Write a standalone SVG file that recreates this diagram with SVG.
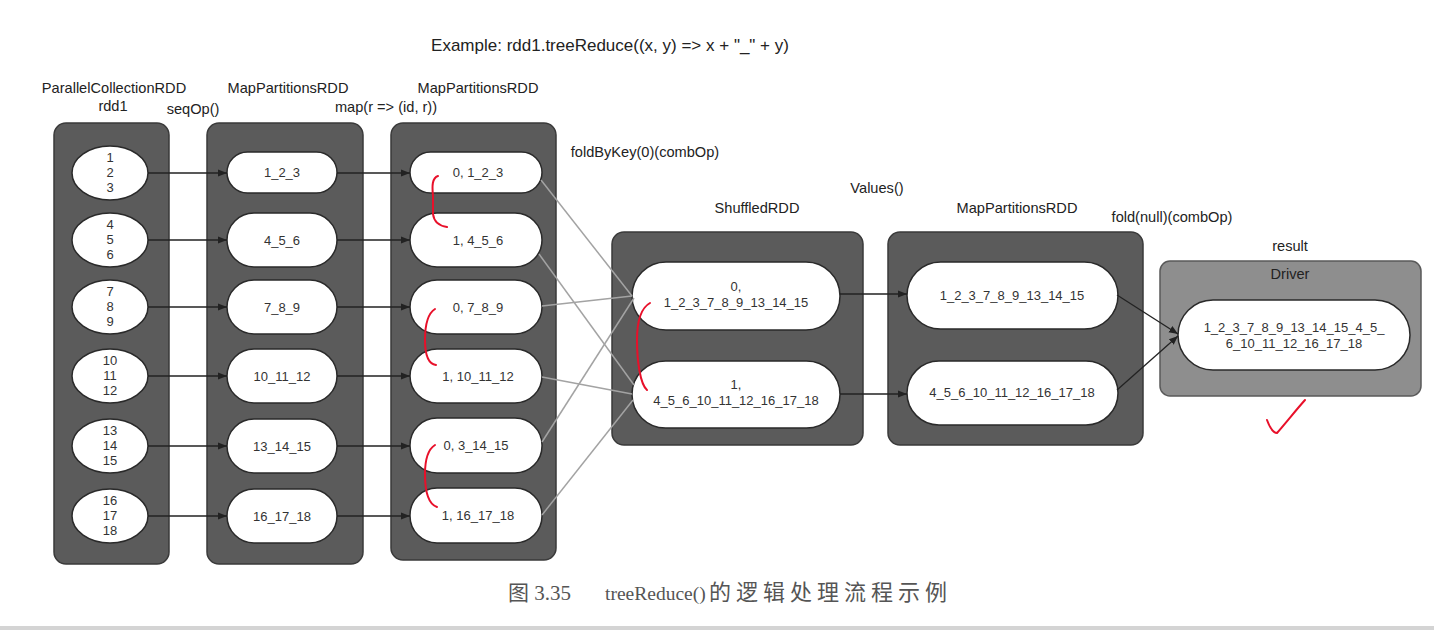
<svg xmlns="http://www.w3.org/2000/svg" width="1434" height="630" viewBox="0 0 1434 630">
<defs>
<marker id="ah" viewBox="0 0 10 10" refX="10" refY="5" markerWidth="9" markerHeight="9" markerUnits="userSpaceOnUse" orient="auto">
<path d="M0,1 L10,5 L0,9 z" fill="#222"/>
</marker>
<style>
.box{fill:#5b5b5b;stroke:#3a3a3a;stroke-width:1.5}
.drv{fill:#8e8e8e;stroke:#5a5a5a;stroke-width:1.5}
.pill{fill:#fff;stroke:#2a2a2a;stroke-width:1.5}
.t{font-family:"Liberation Sans",Arial,sans-serif;font-size:14.6px;fill:#222;text-anchor:middle}
.n{font-family:"Liberation Sans",Arial,sans-serif;font-size:13px;fill:#333;text-anchor:middle}
.arr{stroke:#222;stroke-width:1.3;fill:none;marker-end:url(#ah)}
.sh{stroke:#a3a3a3;stroke-width:1.5;fill:none}
.red{stroke:#e8102a;stroke-width:2;fill:none;stroke-linecap:round}
.cap{font-family:"Liberation Serif","Noto Sans CJK SC",serif;font-size:21px;fill:#555}
</style>
</defs>
<rect width="1434" height="630" fill="#fff"/>

<g id="labels">
<text class="t" x="610" y="51" style="font-size:17px">Example: rdd1.treeReduce((x, y) =&gt; x + "_" + y)</text>
<text class="t" x="114" y="93">ParallelCollectionRDD</text>
<text class="t" x="113" y="111">rdd1</text>
<text class="t" x="193" y="114">seqOp()</text>
<text class="t" x="288" y="93">MapPartitionsRDD</text>
<text class="t" x="386" y="112">map(r =&gt; (id, r))</text>
<text class="t" x="478" y="93">MapPartitionsRDD</text>
<text class="t" x="645" y="157">foldByKey(0)(combOp)</text>
<text class="t" x="877" y="193">Values()</text>
<text class="t" x="757" y="213">ShuffledRDD</text>
<text class="t" x="1017" y="213">MapPartitionsRDD</text>
<text class="t" x="1172" y="222">fold(null)(combOp)</text>
<text class="t" x="1290" y="251">result</text>
</g>

<g id="rdd1">
<rect class="box" x="54" y="123" width="115" height="441" rx="12"/>
<g id="p1-1"><ellipse class="pill" cx="110" cy="173" rx="38" ry="27"/><text class="n" x="110" y="162">1</text><text class="n" x="110" y="177">2</text><text class="n" x="110" y="192">3</text></g>
<g id="p1-2"><ellipse class="pill" cx="110" cy="240" rx="38" ry="27"/><text class="n" x="110" y="229">4</text><text class="n" x="110" y="244">5</text><text class="n" x="110" y="259">6</text></g>
<g id="p1-3"><ellipse class="pill" cx="110" cy="307" rx="38" ry="27"/><text class="n" x="110" y="296">7</text><text class="n" x="110" y="311">8</text><text class="n" x="110" y="326">9</text></g>
<g id="p1-4"><ellipse class="pill" cx="110" cy="376" rx="38" ry="27"/><text class="n" x="110" y="365">10</text><text class="n" x="110" y="380">11</text><text class="n" x="110" y="395">12</text></g>
<g id="p1-5"><ellipse class="pill" cx="110" cy="446" rx="38" ry="27"/><text class="n" x="110" y="435">13</text><text class="n" x="110" y="450">14</text><text class="n" x="110" y="465">15</text></g>
<g id="p1-6"><ellipse class="pill" cx="110" cy="516" rx="38" ry="27"/><text class="n" x="110" y="505">16</text><text class="n" x="110" y="520">17</text><text class="n" x="110" y="535">18</text></g>
</g>

<g id="mp1">
<rect class="box" x="207" y="123" width="156" height="441" rx="12"/>
<g id="p2-1"><rect class="pill" x="227" y="152" width="110" height="41" rx="20.5"/><text class="n" x="282" y="177">1_2_3</text></g>
<g id="p2-2"><rect class="pill" x="227" y="213" width="110" height="54" rx="27"/><text class="n" x="282" y="245">4_5_6</text></g>
<g id="p2-3"><rect class="pill" x="227" y="280" width="110" height="54" rx="27"/><text class="n" x="282" y="312">7_8_9</text></g>
<g id="p2-4"><rect class="pill" x="227" y="349" width="110" height="54" rx="27"/><text class="n" x="282" y="381">10_11_12</text></g>
<g id="p2-5"><rect class="pill" x="227" y="419" width="110" height="54" rx="27"/><text class="n" x="282" y="451">13_14_15</text></g>
<g id="p2-6"><rect class="pill" x="227" y="489" width="110" height="54" rx="27"/><text class="n" x="282" y="521">16_17_18</text></g>
</g>

<g id="mp2">
<rect class="box" x="391" y="123" width="165" height="437" rx="12"/>
<g id="p3-1"><rect class="pill" x="410" y="152" width="132" height="41" rx="20.5"/><text class="n" x="478" y="177">0, 1_2_3</text></g>
<g id="p3-2"><rect class="pill" x="410" y="213" width="132" height="54" rx="27"/><text class="n" x="478" y="245">1, 4_5_6</text></g>
<g id="p3-3"><rect class="pill" x="410" y="280" width="132" height="54" rx="27"/><text class="n" x="478" y="312">0, 7_8_9</text></g>
<g id="p3-4"><rect class="pill" x="410" y="349" width="132" height="54" rx="27"/><text class="n" x="478" y="381">1, 10_11_12</text></g>
<g id="p3-5"><rect class="pill" x="410" y="418" width="132" height="55" rx="27"/><text class="n" x="476" y="450">0, 3_14_15</text></g>
<g id="p3-6"><rect class="pill" x="410" y="488" width="132" height="55" rx="27"/><text class="n" x="478" y="520">1, 16_17_18</text></g>
</g>

<g id="shuffled">
<rect class="box" x="612" y="232" width="251" height="213" rx="12"/>
<g id="s-0"><rect class="pill" x="632" y="262" width="208" height="68" rx="34"/><text class="n" x="736" y="291">0,</text><text class="n" x="736" y="307">1_2_3_7_8_9_13_14_15</text></g>
<g id="s-1"><rect class="pill" x="632" y="361" width="208" height="67" rx="33.5"/><text class="n" x="736" y="389">1,</text><text class="n" x="736" y="405">4_5_6_10_11_12_16_17_18</text></g>
</g>

<g id="mp3">
<rect class="box" x="888" y="232" width="255" height="213" rx="12"/>
<g id="v-0"><rect class="pill" x="907" y="262" width="211" height="67" rx="33.5"/><text class="n" x="1012" y="300">1_2_3_7_8_9_13_14_15</text></g>
<g id="v-1"><rect class="pill" x="907" y="361" width="211" height="64" rx="32"/><text class="n" x="1012" y="397">4_5_6_10_11_12_16_17_18</text></g>
</g>

<g id="driver">
<rect class="drv" x="1160" y="261" width="261" height="135" rx="10"/>
<text class="t" x="1290" y="279">Driver</text>
<g id="res"><rect class="pill" x="1178" y="300" width="232" height="70" rx="35"/><text class="n" x="1294" y="332">1_2_3_7_8_9_13_14_15_4_5_</text><text class="n" x="1294" y="348">6_10_11_12_16_17_18</text></g>
</g>

<g id="connectors">
<line class="arr" x1="148" y1="173" x2="227" y2="173"/>
<line class="arr" x1="148" y1="240" x2="227" y2="240"/>
<line class="arr" x1="148" y1="307" x2="227" y2="307"/>
<line class="arr" x1="148" y1="376" x2="227" y2="376"/>
<line class="arr" x1="148" y1="446" x2="227" y2="446"/>
<line class="arr" x1="148" y1="516" x2="227" y2="516"/>
<line class="arr" x1="337" y1="173" x2="410" y2="173"/>
<line class="arr" x1="337" y1="240" x2="410" y2="240"/>
<line class="arr" x1="337" y1="307" x2="410" y2="307"/>
<line class="arr" x1="337" y1="376" x2="410" y2="376"/>
<line class="arr" x1="337" y1="446" x2="410" y2="446"/>
<line class="arr" x1="337" y1="516" x2="410" y2="516"/>
<line class="sh" x1="541" y1="180" x2="632" y2="296"/>
<line class="sh" x1="539" y1="254" x2="634" y2="385"/>
<line class="sh" x1="542" y1="306" x2="632" y2="296"/>
<line class="sh" x1="542" y1="377" x2="632" y2="394"/>
<line class="sh" x1="542" y1="442" x2="634" y2="298"/>
<line class="sh" x1="542" y1="515" x2="633" y2="400"/>
<line class="arr" x1="840" y1="294" x2="907" y2="294"/>
<line class="arr" x1="840" y1="394" x2="907" y2="394"/>
<line class="arr" x1="1117" y1="295" x2="1178" y2="334"/>
<line class="arr" x1="1117" y1="390" x2="1178" y2="336"/>
</g>

<g id="annotations">
<path class="red" d="M438,176 C432,178 432,186 433,196 L433,214 C434,222 440,226 447,227"/>
<path class="red" d="M435,309 C427,314 425,328 425,340 C425,354 428,364 436,365"/>
<path class="red" d="M435,445 C427,450 425,462 425,474 C425,490 428,504 437,507"/>
<path class="red" d="M650,303 C641,308 637,322 637,340 C637,360 640,384 647,390"/>
<path class="red" d="M1267,420 C1270,428 1273,433 1277,433 C1285,424 1296,410 1305,400"/>
</g>

<g id="caption">
<text class="cap" x="508" y="600">图 3.35</text>
<text class="cap" x="605" y="600" style="font-size:19.5px">treeReduce()</text>
<text class="cap" x="709" y="600" style="font-size:22px;letter-spacing:5px">的逻辑处理流程示例</text>
</g>
<rect x="0" y="626" width="1434" height="4" fill="#d4d4d4"/>
</svg>
